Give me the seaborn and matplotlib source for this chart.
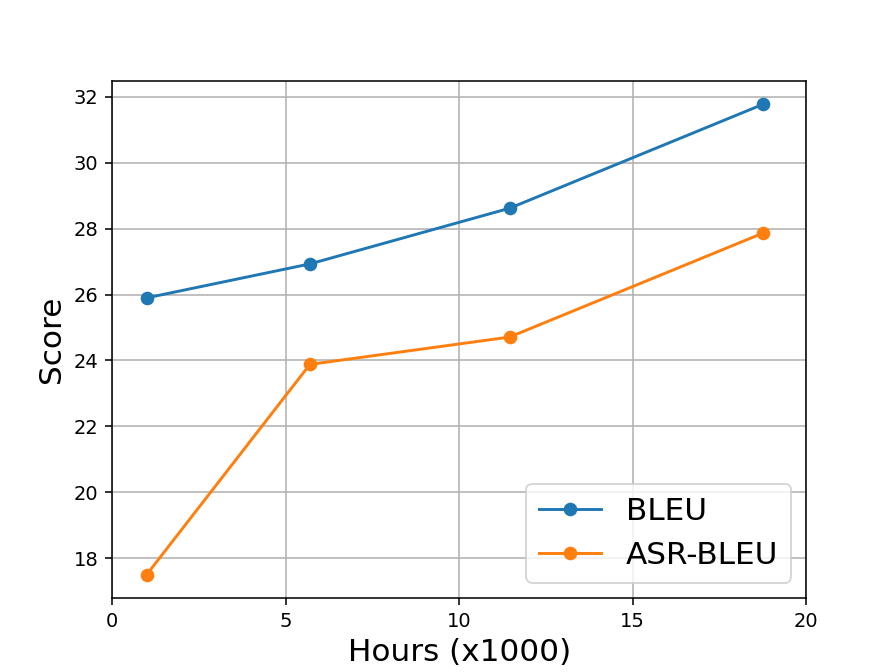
import pandas as pd
import matplotlib
matplotlib.use('Agg')
import matplotlib.pyplot as plt
import seaborn as sns

# Dados
hours = [1.0, 5.7, 11.45, 18.76]
bleu = [25.9, 26.93, 28.62, 31.78]
asr_bleu = [17.5, 23.88, 24.71, 27.87]

df = pd.DataFrame({
    'Hours': hours * 2,
    'Score': bleu + asr_bleu,
    'Metric': ['BLEU'] * len(bleu) + ['ASR-BLEU'] * len(asr_bleu),
})

fig, ax = plt.subplots(figsize=(6.4, 4.8), dpi=140)
sns.lineplot(data=df, x='Hours', y='Score', hue='Metric', marker='o',
             markersize=7, markeredgewidth=0, palette=['#1f77b4', '#ff7f0e'],
             linewidth=1.5, ax=ax)

ax.set_xlim(0, 20)
ax.set_xticks([0, 5, 10, 15, 20])
ax.set_yticks([18, 20, 22, 24, 26, 28, 30, 32])
ax.grid(True, color='#b0b0b0', linewidth=0.8)
ax.set_axisbelow(True)
ax.set_xlabel('Hours (x1000)', fontsize=16)
ax.set_ylabel('Score', fontsize=16)
ax.legend(title=None, loc='lower right', fontsize=16)

fig.savefig('out.png', dpi=140)
